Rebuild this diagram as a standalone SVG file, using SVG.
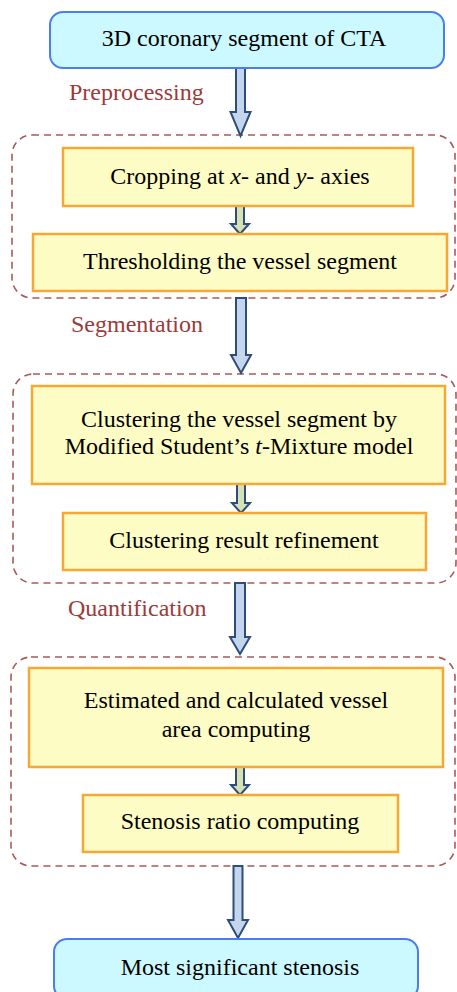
<svg xmlns="http://www.w3.org/2000/svg" width="457" height="992" viewBox="0 0 457 992">
<style>
.t{font-family:"Liberation Serif","Times New Roman",serif;font-size:24px;fill:#000;text-anchor:middle}
.lab{font-family:"Liberation Serif","Times New Roman",serif;font-size:24px;fill:#9b3b3a}
.term{fill:#ccf9ff;stroke:#4b7cf0;stroke-width:2}
.proc{fill:#fdfcc4;stroke:#f7a733;stroke-width:2.5}
.grp{fill:none;stroke:#a85a5a;stroke-width:1.6;stroke-dasharray:7 5}
.big{fill:#c3d6ee;stroke:#2e4d78;stroke-width:2}
.small{fill:#d5e2b8;stroke:#2e4d78;stroke-width:2}
</style>
<rect width="457" height="992" fill="#fff"/>
<g id="groups">
<rect class="grp" x="12" y="135" width="443" height="163" rx="20"/>
<rect class="grp" x="13" y="374" width="443" height="209" rx="20"/>
<rect class="grp" x="11" y="657" width="444" height="209" rx="20"/>
</g>
<g id="labels">
<text class="lab" x="69" y="100">Preprocessing</text>
<text class="lab" x="71" y="332">Segmentation</text>
<text class="lab" x="68" y="616">Quantification</text>
</g>
<g id="connectors">
<path class="big" d="M236,68 L245,68 L245,112 L250.5,112 L240.5,136 L230.5,112 L236,112 Z"/>
<path class="big" d="M236,298 L246,298 L246,355 L251,355 L241,373 L231,355 L236,355 Z"/>
<path class="big" d="M235,583 L245,583 L245,637 L250,637 L240,654 L230,637 L235,637 Z"/>
<path class="big" d="M233.5,866 L242.5,866 L242.5,920 L248,920 L238,938 L228,920 L233.5,920 Z"/>
<path class="small" d="M236,205 L244,205 L244,224 L249,224 L240,234 L231,224 L236,224 Z"/>
<path class="small" d="M237,484 L245,484 L245,503 L250,503 L241,513 L232,503 L237,503 Z"/>
<path class="small" d="M236,767 L244,767 L244,785 L249,785 L240,795 L231,785 L236,785 Z"/>
</g>
<g id="n-start">
<rect class="term" x="50" y="12" width="394" height="56" rx="13"/>
<text class="t" x="244" y="46">3D coronary segment of CTA</text>
</g>
<g id="n-crop">
<rect class="proc" x="63" y="148" width="350" height="58"/>
<text class="t" x="240" y="184">Cropping at <tspan font-style="italic">x</tspan>- and <tspan font-style="italic">y</tspan>- axies</text>
</g>
<g id="n-thresh">
<rect class="proc" x="33" y="234" width="414" height="57"/>
<text class="t" x="240" y="269">Thresholding the vessel segment</text>
</g>
<g id="n-cluster">
<rect class="proc" x="32" y="386" width="413" height="98"/>
<text class="t" x="239" y="427">Clustering the vessel segment by</text>
<text class="t" x="239" y="454">Modified Student’s <tspan font-style="italic">t</tspan>-Mixture model</text>
</g>
<g id="n-refine">
<rect class="proc" x="63" y="513" width="363" height="57"/>
<text class="t" x="244" y="548">Clustering result refinement</text>
</g>
<g id="n-area">
<rect class="proc" x="29" y="668" width="414" height="99"/>
<text class="t" x="236" y="708">Estimated and calculated vessel</text>
<text class="t" x="236" y="737">area computing</text>
</g>
<g id="n-ratio">
<rect class="proc" x="83" y="795" width="315" height="57"/>
<text class="t" x="240" y="829">Stenosis ratio computing</text>
</g>
<g id="n-end">
<rect class="term" x="54" y="939" width="364" height="60" rx="13"/>
<text class="t" x="240" y="975">Most significant stenosis</text>
</g>
</svg>
